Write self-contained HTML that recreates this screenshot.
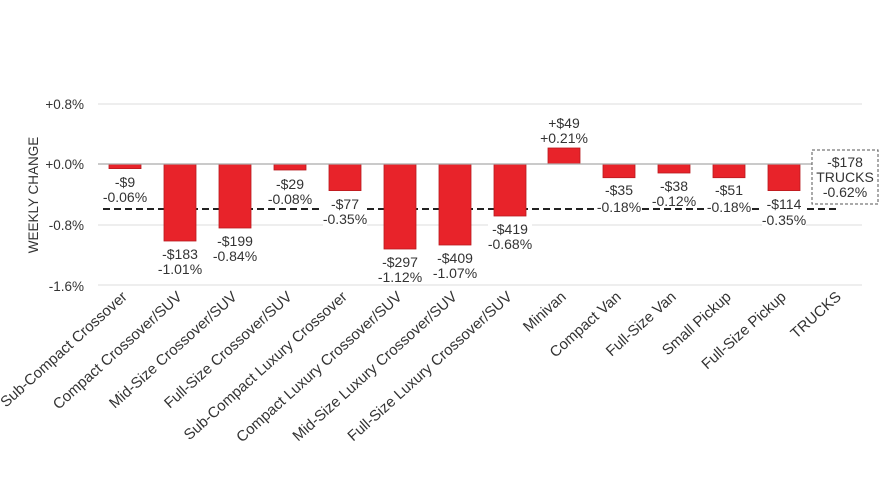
<!DOCTYPE html>
<html><head><meta charset="utf-8"><style>
html,body{margin:0;padding:0;background:#fff;}
svg{display:block;font-family:"Liberation Sans",Arial,sans-serif;}
</style></head><body>
<svg width="880" height="495" viewBox="0 0 880 495" xmlns="http://www.w3.org/2000/svg">
<g stroke="#dcdcdc" stroke-width="1">
<line x1="98" y1="104" x2="862" y2="104"/>
<line x1="98" y1="225" x2="862" y2="225"/>
<line x1="98" y1="285" x2="862" y2="285"/>
</g>
<g fill="#333" font-size="13.5" text-anchor="end">
<text x="84" y="109">+0.8%</text>
<text x="84" y="169">+0.0%</text>
<text x="84" y="230">-0.8%</text>
<text x="84" y="291">-1.6%</text>
</g>
<text transform="translate(38,195) rotate(-90)" font-size="13.5" fill="#333" text-anchor="middle">WEEKLY CHANGE</text>
<line x1="103" y1="209" x2="836" y2="209" stroke="#222" stroke-width="2" stroke-dasharray="7,4"/>
<g fill="#e8232a" stroke="#b81a1f" stroke-width="0.8">
<rect x="109" y="164" width="32" height="4.6"/>
<rect x="164" y="164" width="32" height="77"/>
<rect x="219" y="164" width="32" height="64"/>
<rect x="274" y="164" width="32" height="6"/>
<rect x="329" y="164" width="32" height="26.6"/>
<rect x="384" y="164" width="32" height="85"/>
<rect x="439" y="164" width="32" height="81"/>
<rect x="494" y="164" width="32" height="52"/>
<rect x="548" y="148" width="32" height="16"/>
<rect x="603" y="164" width="32" height="13.7"/>
<rect x="658" y="164" width="32" height="9"/>
<rect x="713" y="164" width="32" height="13.7"/>
<rect x="768" y="164" width="32" height="26.6"/>
</g>
<line x1="98" y1="164" x2="862" y2="164" stroke="#aaa" stroke-width="1.2"/>
<g font-size="14" fill="#333" text-anchor="middle">
<g fill="#fff" stroke="none">
<rect x="103" y="174" width="44" height="30"/>
<rect x="268" y="176" width="44" height="30"/>
<rect x="323" y="196" width="44" height="30"/>
<rect x="488" y="222" width="44" height="30"/>
<rect x="597" y="182" width="44" height="30"/>
<rect x="652" y="178" width="44" height="30"/>
<rect x="707" y="182" width="44" height="30"/>
<rect x="762" y="196" width="44" height="30"/>
<rect x="812" y="150" width="66" height="54" stroke="#555" stroke-width="1" stroke-dasharray="3,2"/>
</g>
<text x="125" y="187">-$9</text><text x="125" y="202">-0.06%</text>
<text x="180" y="259">-$183</text><text x="180" y="274">-1.01%</text>
<text x="235" y="246">-$199</text><text x="235" y="261">-0.84%</text>
<text x="290" y="189">-$29</text><text x="290" y="204">-0.08%</text>
<text x="345" y="209">-$77</text><text x="345" y="224">-0.35%</text>
<text x="400" y="267">-$297</text><text x="400" y="282">-1.12%</text>
<text x="455" y="263">-$409</text><text x="455" y="278">-1.07%</text>
<text x="510" y="234">-$419</text><text x="510" y="249">-0.68%</text>
<text x="564" y="128">+$49</text><text x="564" y="143">+0.21%</text>
<text x="619" y="195">-$35</text><text x="619" y="212">-0.18%</text>
<text x="674" y="191">-$38</text><text x="674" y="206">-0.12%</text>
<text x="729" y="195">-$51</text><text x="729" y="212">-0.18%</text>
<text x="784" y="209">-$114</text><text x="784" y="225">-0.35%</text>
<text x="845" y="167">-$178</text><text x="845" y="182">TRUCKS</text><text x="845" y="197">-0.62%</text>
</g>
<g font-size="15" fill="#333" text-anchor="end">
<text transform="translate(128,298) rotate(-42)">Sub-Compact Crossover</text>
<text transform="translate(183,298) rotate(-42)">Compact Crossover/SUV</text>
<text transform="translate(238,298) rotate(-42)">Mid-Size Crossover/SUV</text>
<text transform="translate(293,298) rotate(-42)">Full-Size Crossover/SUV</text>
<text transform="translate(348,298) rotate(-42)">Sub-Compact Luxury Crossover</text>
<text transform="translate(403,298) rotate(-42)">Compact Luxury Crossover/SUV</text>
<text transform="translate(458,298) rotate(-42)">Mid-Size Luxury Crossover/SUV</text>
<text transform="translate(513,298) rotate(-42)">Full-Size Luxury Crossover/SUV</text>
<text transform="translate(567,298) rotate(-42)">Minivan</text>
<text transform="translate(622,298) rotate(-42)">Compact Van</text>
<text transform="translate(677,298) rotate(-42)">Full-Size Van</text>
<text transform="translate(732,298) rotate(-42)">Small Pickup</text>
<text transform="translate(787,298) rotate(-42)">Full-Size Pickup</text>
<text transform="translate(842,298) rotate(-42)">TRUCKS</text>
</g>
</svg>
</body></html>
